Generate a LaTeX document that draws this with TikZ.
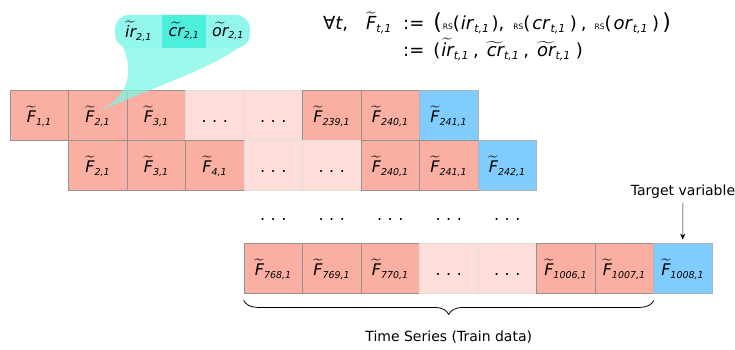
\documentclass[tikz,border=0pt]{standalone}
\usepackage{fontspec}
\setmainfont{DejaVu Sans}
\usepackage{amsmath}
\usetikzlibrary{arrows.meta,decorations.pathreplacing}

\definecolor{salmon}{HTML}{FAAFA2}
\definecolor{blush}{HTML}{FFDEDA}
\definecolor{skyblue}{HTML}{80CCFF}
\definecolor{aqua}{HTML}{7FF5E6}
\definecolor{aquadark}{HTML}{4CEFDC}

\newcommand{\sub}[1]{\mbox{\fontsize{9.5}{10}\selectfont\itshape #1}}
\newcommand{\bsub}[1]{\mbox{\fontsize{11}{12}\selectfont\itshape #1}}
\newcommand{\feat}[1]{$\widetilde{\textit{F}}_{\sub{#1}}$}
\newcommand{\tld}[2]{$\widetilde{\textit{#1}}_{\sub{#2}}$}
\newcommand{\btld}[2]{$\widetilde{\textit{#1}}_{\bsub{#2}}$}
\newcommand{\plain}[2]{\textit{#1}$_{\bsub{#2}}$}
\newcommand{\rsf}{{\fontsize{7.5}{8}\selectfont RS}}
\newcommand{\bigpar}[1]{{\fontsize{22}{22}\selectfont #1}}
\newcommand{\spdots}{.\hspace{0.35em}.\hspace{0.35em}.}

\tikzset{
  cell/.style={draw=gray!85, line width=0.8pt, minimum width=58.5pt, minimum height=50pt,
    inner sep=0pt, text height=19pt, text depth=4pt, font=\fontsize{16}{18}\selectfont},
  hot/.style={cell, fill=salmon},
  faded/.style={cell, fill=blush, draw=gray!25},
  target/.style={cell, fill=skyblue, draw=gray!60},
  big/.style={font=\fontsize{16}{18}\selectfont},
  formula/.style={font=\fontsize{18}{20}\selectfont, inner sep=0pt},
  note/.style={font=\fontsize{14}{16}\selectfont},
}

\begin{document}
\begin{tikzpicture}[x=1pt, y=-1pt]
  \useasboundingbox (0,0) rectangle (735,350);

  % three windows of the series
  \foreach \lab/\sty [count=\i] in {{\feat{1,1}}/hot, {\feat{2,1}}/hot, {\feat{3,1}}/hot, \spdots/faded,
      \spdots/faded, {\feat{239,1}}/hot, {\feat{240,1}}/hot, {\feat{241,1}}/target}
    \node[\sty] (top\i) at ({39.25+58.5*(\i-1)},115) {\lab};
  \foreach \lab/\sty [count=\i] in {{\feat{2,1}}/hot, {\feat{3,1}}/hot, {\feat{4,1}}/hot, \spdots/faded,
      \spdots/faded, {\feat{240,1}}/hot, {\feat{241,1}}/hot, {\feat{242,1}}/target}
    \node[\sty] (mid\i) at ({97.75+58.5*(\i-1)},165) {\lab};
  \foreach \i in {1,...,5}
    \node[big] (gap\i) at ({273.25+58.5*(\i-1)},220) {\spdots};
  \foreach \lab/\sty [count=\i] in {{\feat{768,1}}/hot, {\feat{769,1}}/hot, {\feat{770,1}}/hot, \spdots/faded,
      \spdots/faded, {\feat{1006,1}}/hot, {\feat{1007,1}}/hot, {\feat{1008,1}}/target}
    \node[\sty] (low\i) at ({273.25+58.5*(\i-1)},268) {\lab};

  % callout on F_{2,1}
  \coordinate (tip) at ([xshift=4pt,yshift=5pt]top2.center);
  \fill[aqua, opacity=0.75] (117,36) .. controls (138,70) and (128,95) .. (tip)
    .. controls (160,85) and (228,62) .. (247,40) -- cycle;
  \fill[aqua!85, rounded corners=14pt] (115,15) rectangle (250,48);
  \fill[aquadark] (162,15) rectangle (206,48);
  \node[big] (ir) at (138.5,31) {\tld{ir}{2,1}};
  \node[big] (cr) at (184,31) {\tld{cr}{2,1}};
  \node[big] (or) at (228,31) {\tld{or}{2,1}};

  % definition
  \node[formula, anchor=base east] (lhs) at (392,30) {∀\textit{t},\hspace{18pt}$\widetilde{\textit{F}}_{\bsub{t,1}}$};
  \node[formula, anchor=base west] (def) at (403,30) {:=\hspace{9pt}\bigpar{(}\hspace{1pt}\rsf(\hspace{1pt}\plain{ir}{t,1}\hspace{2pt}),\hspace{9pt}%
    \rsf(\hspace{2pt}\plain{cr}{t,1}\hspace{4pt})\hspace{4pt},\hspace{8pt}\rsf(\hspace{2pt}\plain{or}{t,1}\hspace{4pt})\hspace{3pt}\bigpar{)}};
  \node[formula, anchor=base west] (eqv) at (403,57) {:=\hspace{9pt}(\hspace{1pt}\btld{ir}{t,1}\hspace{4pt},\hspace{8pt}%
    \btld{cr}{t,1}\hspace{4pt},\hspace{8pt}\btld{or}{t,1}\hspace{5pt})};

  % target and training span
  \node[note] (tgt) at (683,192) {Target variable};
  \draw[-{Stealth[length=6pt,width=5pt]}] (tgt) -- ([yshift=3pt]low8.north);
  \draw[decorate, decoration={brace, mirror, amplitude=14pt}, line width=0.8pt]
    ([yshift=-7pt]low1.south west) -- ([yshift=-7pt]low7.south east)
    node[midway, below=27pt, note] (train) {Time Series (Train data)};
\end{tikzpicture}
\end{document}
